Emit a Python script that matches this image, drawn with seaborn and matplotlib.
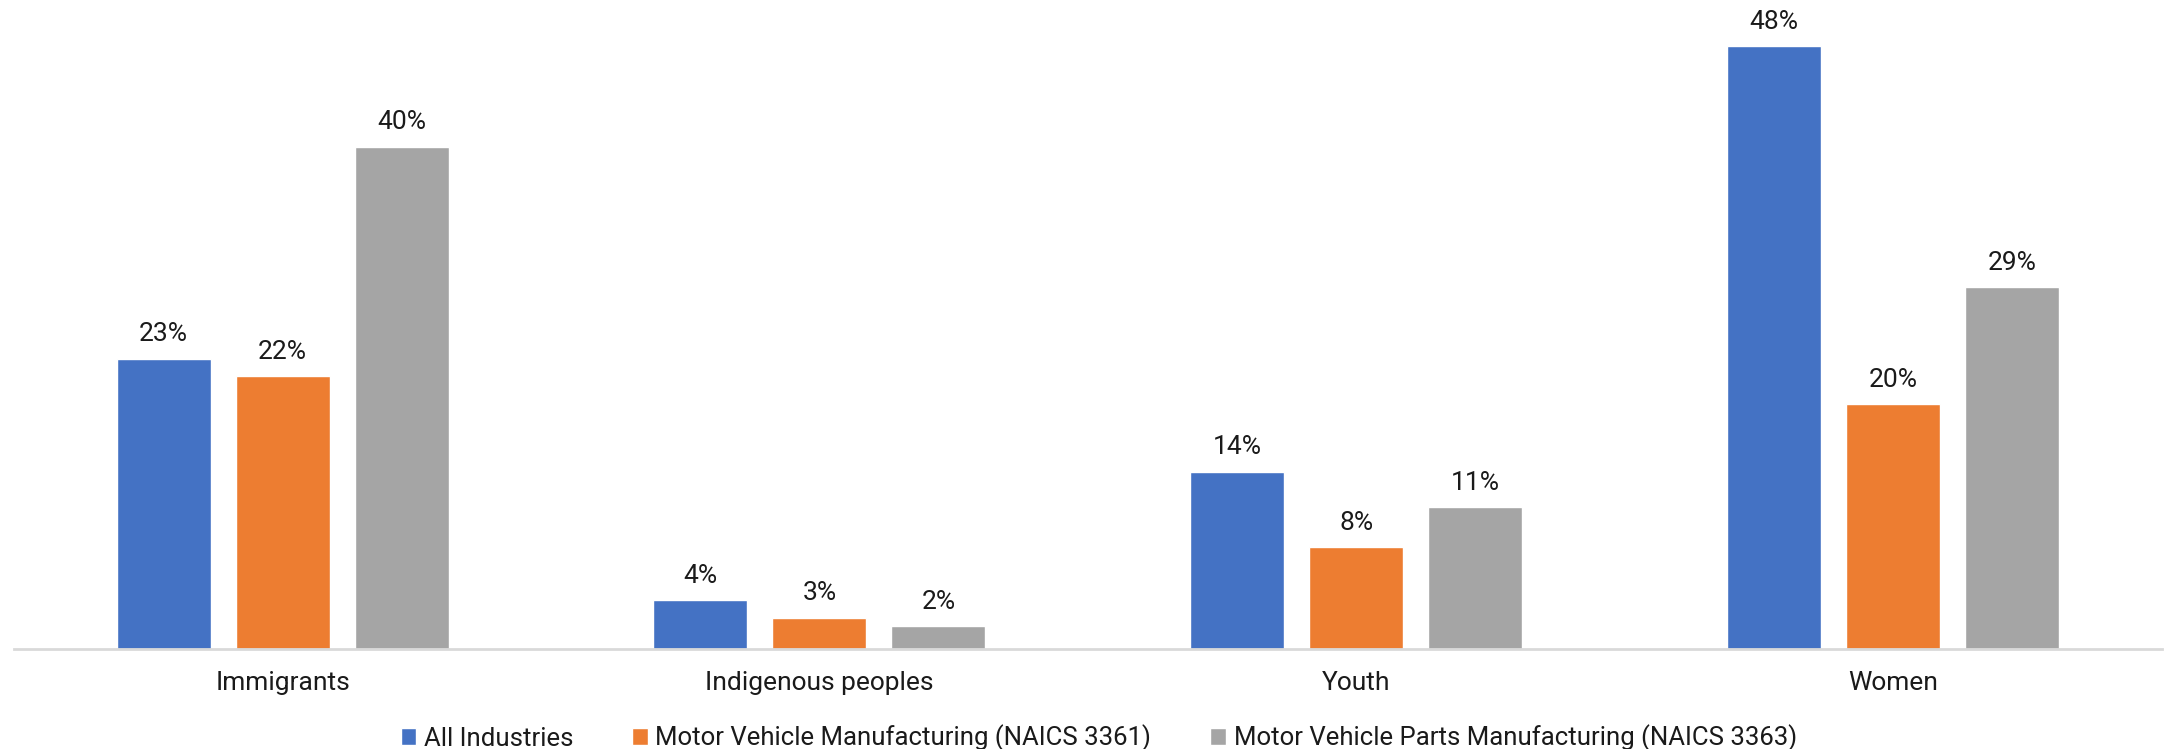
import pandas as pd
import seaborn as sns
import matplotlib.pyplot as plt

# Values (percent)
categories = ["Immigrants", "Indigenous peoples", "Youth", "Women"]
series = ["All Industries",
          "Motor Vehicle Manufacturing (NAICS 3361)",
          "Motor Vehicle Parts Manufacturing (NAICS 3363)"]
all_industries = [23.1, 3.9, 14.1, 48.0]
motor_vehicle = [21.7, 2.5, 8.1, 19.5]
parts = [40.0, 1.8, 11.3, 28.8]
labels_all = ["23%", "4%", "14%", "48%"]
labels_mv = ["22%", "3%", "8%", "20%"]
labels_parts = ["40%", "2%", "11%", "29%"]
colors = ["#4472C4", "#ED7D31", "#A5A5A5"]

df = pd.DataFrame({
    "category": categories * 3,
    "series": [s for s in series for _ in categories],
    "value": all_industries + motor_vehicle + parts,
})

sns.set_style("white")
plt.rcParams["font.family"] = ["Roboto", "DejaVu Sans"]

fig = plt.figure(figsize=(21.65, 7.49), dpi=100)
ax = fig.add_axes([0.0065, 0.1335, 0.992, 0.8385])

sns.barplot(data=df, x="category", y="value", hue="series", order=categories,
            hue_order=series, palette=colors, width=0.665, gap=0.21,
            saturation=1, errorbar=None, ax=ax, legend=True)

for cont, labs in zip(ax.containers, [labels_all, labels_mv, labels_parts]):
    ax.bar_label(cont, labels=labs, padding=9, fontsize=19, color="#1a1a1a")

ax.set_xlim(-0.5, 3.5)
ax.set_ylim(0, 50)
ax.set_xlabel("")
ax.set_ylabel("")
ax.set_yticks([])
ax.tick_params(axis="x", length=0, labelsize=19, labelcolor="#1a1a1a", pad=16)
for side in ["top", "left", "right"]:
    ax.spines[side].set_visible(False)
ax.spines["bottom"].set_color("#D9D9D9")
ax.spines["bottom"].set_linewidth(2)

ax.legend(loc="lower center", bbox_to_anchor=(0.505, -0.2), ncol=3, frameon=False,
          fontsize=18.5, handlelength=0.6, handleheight=0.6, handletextpad=0.3,
          columnspacing=2.3, labelcolor="#1a1a1a")

fig.savefig("out.png", dpi=100)
